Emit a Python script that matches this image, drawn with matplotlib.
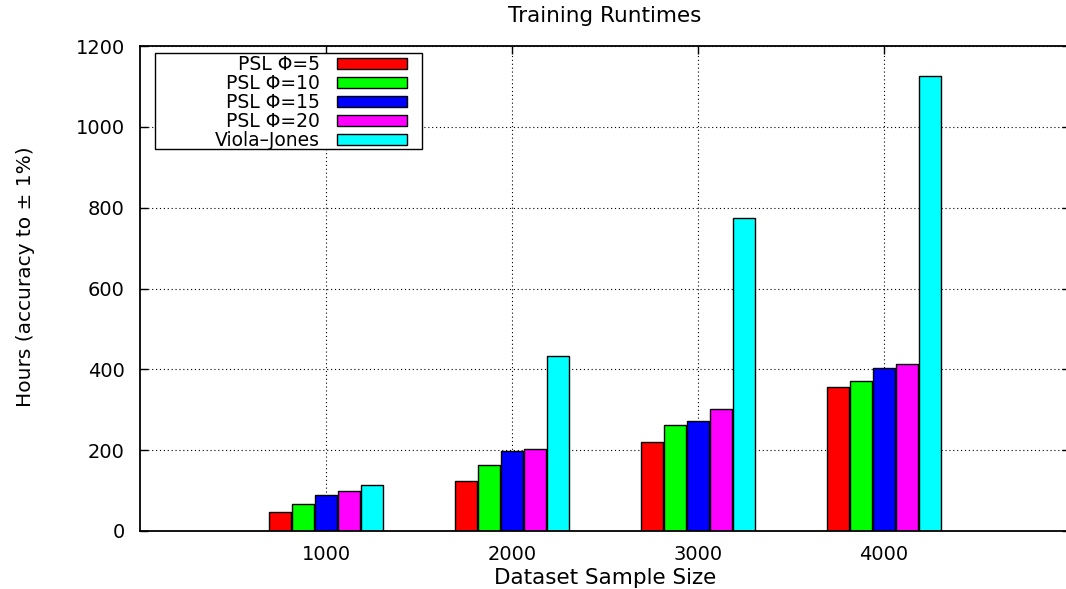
import matplotlib
matplotlib.use("Agg")
import matplotlib.pyplot as plt
from matplotlib.patches import Rectangle
import numpy as np

plt.rcParams['font.family'] = ['DejaVu Sans']

# data
sizes = ["1000", "2000", "3000", "4000"]
series_names = ["PSL \u03a6=5", "PSL \u03a6=10", "PSL \u03a6=15", "PSL \u03a6=20", "Viola\u2013Jones"]
psl_5 = [47, 124, 219, 356]
psl_10 = [68, 164, 263, 370]
psl_15 = [89, 199, 272, 403]
psl_20 = [100, 202, 303, 414]
viola_jones = [113, 434, 775, 1125]
colors = ["#ff0000", "#00ff00", "#0000ff", "#ff00ff", "#00ffff"]

all_series = [psl_5, psl_10, psl_15, psl_20, viola_jones]

fig = plt.figure(figsize=(10.66, 5.89), dpi=100)
ax = fig.add_axes([140/1066, 58/589, 930/1066, 485/589])

x = np.arange(1, len(sizes) + 1)
pitch = 0.124
width = 0.1145
for i, (vals, name, c) in enumerate(zip(all_series, series_names, colors)):
    ax.bar(x + (i - 2) * pitch, vals, width, color=c, edgecolor="black",
           linewidth=1.0, label=name)

ax.set_xlim(0, 5)
ax.set_ylim(0, 1200)
ax.set_xticks(x)
ax.set_xticklabels(sizes)
ax.set_yticks(np.arange(0, 1201, 200))
ax.set_axisbelow(True)
ax.grid(True, color="black", linestyle=(0, (1, 2.5)), linewidth=0.8)
ax.tick_params(direction="in", length=6, width=1, labelsize=14,
               top=True, right=True, pad=10)
ax.tick_params(axis="y", pad=11)
for s in ax.spines.values():
    s.set_linewidth(1.3)

ax.set_title("Training Runtimes", fontsize=15.5, pad=17)
ax.set_xlabel("Dataset Sample Size", fontsize=15.5, labelpad=3)
ax.set_ylabel("Hours (accuracy to \u00b1 1%)", fontsize=14.5)
ax.yaxis.set_label_coords(-0.113, 0.525)

# legend box like gnuplot's key
ax.add_patch(Rectangle((0.0161, 0.7876), 0.2868, 0.1986, transform=ax.transAxes,
                       facecolor="white", edgecolor="black", linewidth=1.0, zorder=3))
leg = ax.legend(loc="upper right", bbox_to_anchor=(0.2868, 0.982), frameon=False,
                markerfirst=False, fontsize=13.5, handlelength=3.73, handleheight=0.53,
                handletextpad=0.9, labelspacing=0.0, borderpad=0, borderaxespad=0)
leg.set_zorder(5)

fig.savefig("out.png", dpi=100)
